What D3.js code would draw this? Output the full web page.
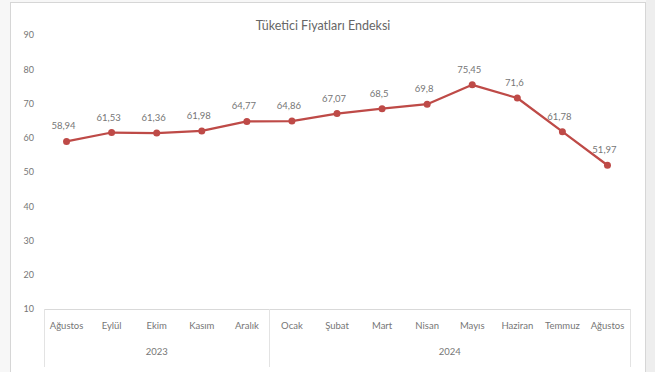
<!DOCTYPE html>
<html>
<head>
<meta charset="utf-8">
<script src="https://cdn.jsdelivr.net/npm/d3@7"></script>
<style>
  body { margin: 0; background: #ffffff; }
  svg { display: block; font-family: Lato, "Open Sans", sans-serif; }
</style>
</head>
<body>
<div id="chart"></div>
<script>
// Chart data
var months = ["Ağustos", "Eylül", "Ekim", "Kasım", "Aralık", "Ocak", "Şubat", "Mart", "Nisan", "Mayıs", "Haziran", "Temmuz", "Ağustos"];
var years = ["2023", "2023", "2023", "2023", "2023", "2024", "2024", "2024", "2024", "2024", "2024", "2024", "2024"];
var values = [58.94, 61.53, 61.36, 61.98, 64.77, 64.86, 67.07, 68.5, 69.8, 75.45, 71.6, 61.78, 51.97];
var labels = ["58,94", "61,53", "61,36", "61,98", "64,77", "64,86", "67,07", "68,5", "69,8", "75,45", "71,6", "61,78", "51,97"];
var yTicks = [10, 20, 30, 40, 50, 60, 70, 80, 90];
var TITLE = "Tüketici Fiyatları Endeksi";

var W = 655, H = 372;
var plot = { left: 44, right: 630, top: 35, bottom: 309 };
var lineColor = "#be4a47";
var textColor = "#767676";

var svg = d3.select("#chart").append("svg")
    .attr("width", W)
    .attr("height", H);

// Background frame
svg.append("rect").attr("x", 0).attr("y", 0).attr("width", W).attr("height", H).attr("fill", "#f7f7f7");
svg.append("rect").attr("x", 10.5).attr("y", 2.5).attr("width", 635).attr("height", H)
    .attr("fill", "#ffffff").attr("stroke", "#d6d6d6");
svg.append("rect").attr("x", 646).attr("y", 0).attr("width", 9).attr("height", H).attr("fill", "#eeeeee");

// Scales
var x = d3.scaleBand()
    .domain(d3.range(months.length))
    .range([plot.left, plot.right]);

var y = d3.scaleLinear()
    .domain([10, 90])
    .range([plot.bottom, plot.top]);

// Title
svg.append("text")
    .attr("x", 323)
    .attr("y", 30)
    .attr("text-anchor", "middle")
    .attr("fill", "#666666")
    .style("font-size", "12.5px")
    .text(TITLE);

// Y axis (labels only)
var yAxis = d3.axisLeft(y).tickValues(yTicks).tickSize(0).tickPadding(0);
var gy = svg.append("g")
    .attr("transform", "translate(34,0)")
    .call(yAxis);
gy.select(".domain").remove();
gy.selectAll("text")
    .attr("fill", textColor)
    .style("font-size", "9px")
    .style("font-family", "Lato, sans-serif");

// X axis line and month labels
var xAxis = d3.axisBottom(x).tickSize(0).tickPadding(13).tickFormat(function (i) { return months[i]; });
var gx = svg.append("g")
    .attr("transform", "translate(0," + plot.bottom + ")")
    .call(xAxis);
gx.select(".domain").attr("stroke", "#d9d9d9");
gx.selectAll("text")
    .attr("fill", textColor)
    .style("font-size", "9.5px")
    .style("font-family", "Lato, sans-serif");

// Year groups
var yearGroups = d3.groups(d3.range(months.length), function (i) { return years[i]; });
var seps = [plot.left];
yearGroups.forEach(function (g) {
  var idx = g[1];
  var x0 = x(idx[0]), x1 = x(idx[idx.length - 1]) + x.bandwidth();
  seps.push(x1);
  svg.append("text")
      .attr("x", (x0 + x1) / 2)
      .attr("y", 355)
      .attr("text-anchor", "middle")
      .attr("fill", textColor)
      .style("font-size", "9.5px")
      .text(g[0]);
});
svg.selectAll(".sep")
    .data(seps)
    .enter().append("line")
    .attr("class", "sep")
    .attr("x1", function (d) { return Math.round(d) + 0.5; })
    .attr("x2", function (d) { return Math.round(d) + 0.5; })
    .attr("y1", plot.bottom)
    .attr("y2", 367)
    .attr("stroke", "#e3e3e3");

// Line
var line = d3.line()
    .x(function (d, i) { return x(i) + x.bandwidth() / 2; })
    .y(function (d) { return y(d); });

svg.append("path")
    .datum(values)
    .attr("d", line)
    .attr("fill", "none")
    .attr("stroke", lineColor)
    .attr("stroke-width", 2.25)
    .attr("stroke-linejoin", "round");

svg.selectAll(".dot")
    .data(values)
    .enter().append("circle")
    .attr("class", "dot")
    .attr("cx", function (d, i) { return x(i) + x.bandwidth() / 2; })
    .attr("cy", function (d) { return y(d); })
    .attr("r", 3.5)
    .attr("fill", lineColor);

// Data labels
svg.selectAll(".lbl")
    .data(values)
    .enter().append("text")
    .attr("class", "lbl")
    .attr("x", function (d, i) { return x(i) + x.bandwidth() / 2 - 3; })
    .attr("y", function (d) { return y(d) - 12; })
    .attr("text-anchor", "middle")
    .attr("fill", textColor)
    .style("font-size", "9.5px")
    .text(function (d, i) { return labels[i]; });
</script>
</body>
</html>
